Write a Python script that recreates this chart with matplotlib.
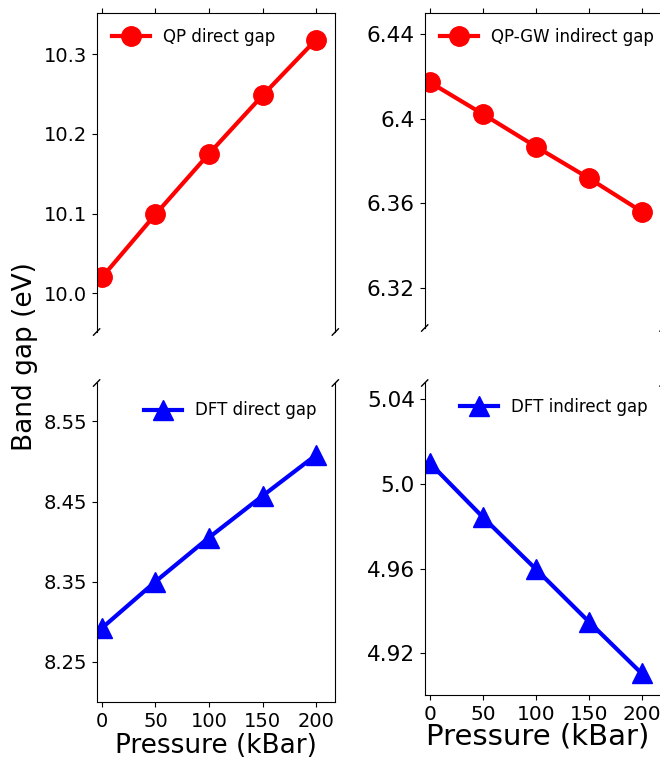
import matplotlib

matplotlib.use("Agg")
import matplotlib.pyplot as plt

pressure = [0, 50, 100, 150, 200]

qp_direct = [10.020, 10.099, 10.175, 10.248, 10.318]
dft_direct = [8.292, 8.350, 8.405, 8.457, 8.508]
qp_indirect = [6.4173, 6.4023, 6.3869, 6.3720, 6.3562]
dft_indirect = [5.0098, 4.9843, 4.9598, 4.9350, 4.9105]

left_top_ticks = [10.0, 10.1, 10.2, 10.3]
left_top_labels = ["10.0", "10.1", "10.2", "10.3"]
left_bot_ticks = [8.25, 8.35, 8.45, 8.55]
left_bot_labels = ["8.25", "8.35", "8.45", "8.55"]
right_top_ticks = [6.32, 6.36, 6.40, 6.44]
right_top_labels = ["6.32", "6.36", "6.4", "6.44"]
right_bot_ticks = [4.92, 4.96, 5.00, 5.04]
right_bot_labels = ["4.92", "4.96", "5.0", "5.04"]
x_ticks = [0, 50, 100, 150, 200]

W, H = 660, 759


def px_axes(fig, left, top, right, bottom):
    return fig.add_axes([left / W, 1 - bottom / H, (right - left) / W, (bottom - top) / H])


def break_marks(ax, ys):
    dx, dy = 0.013, 0.01
    kw = dict(transform=ax.transAxes, color="k", lw=1, clip_on=False)
    for x in (0, 1):
        for y in ys:
            ax.plot((x - dx, x + dx), (y - dy, y + dy), **kw)


def style_pair(ax_top, ax_bot, xmax, tick_fs_y, tick_fs_x):
    ax_top.spines["bottom"].set_visible(False)
    ax_bot.spines["top"].set_visible(False)
    ax_top.xaxis.tick_top()
    ax_top.tick_params(labeltop=False)
    ax_bot.xaxis.tick_bottom()
    for ax in (ax_top, ax_bot):
        ax.set_xlim(-5, xmax)
        ax.set_xticks(x_ticks)
        ax.tick_params(axis="y", labelsize=tick_fs_y)
        ax.tick_params(axis="x", labelsize=tick_fs_x)
    break_marks(ax_top, [0])
    break_marks(ax_bot, [1])


fig = plt.figure(figsize=(W / 100, H / 100), dpi=100)

# left column: direct gaps
ax_tl = px_axes(fig, 96.6, 13, 335.3, 332)
ax_bl = px_axes(fig, 96.6, 383, 335.3, 702)
# right column: indirect gaps (right spine falls just past the edge, as in the source)
ax_tr = px_axes(fig, 424.7, 13, 663, 328)
ax_br = px_axes(fig, 424.7, 383, 663, 695)

line_kw = dict(lw=3, markersize=14)
ax_tl.plot(pressure, qp_direct, "o-", color="red", label="QP direct gap", **line_kw)
ax_bl.plot(pressure, dft_direct, "^-", color="blue", label="DFT direct gap", **line_kw)
ax_tr.plot(pressure, qp_indirect, "o-", color="red", label="QP-GW indirect gap", **line_kw)
ax_br.plot(pressure, dft_indirect, "^-", color="blue", label="DFT indirect gap", **line_kw)

ax_tl.set_ylim(9.9515, 10.3514)
ax_bl.set_ylim(8.1996, 8.598)
ax_tr.set_ylim(6.3011, 6.4501)
ax_br.set_ylim(4.9003, 5.0477)

ax_tl.set_yticks(left_top_ticks, left_top_labels)
ax_bl.set_yticks(left_bot_ticks, left_bot_labels)
ax_tr.set_yticks(right_top_ticks, right_top_labels)
ax_br.set_yticks(right_bot_ticks, right_bot_labels)

style_pair(ax_tl, ax_bl, 218, 14, 14)
style_pair(ax_tr, ax_br, 220.2, 15.5, 14.5)

leg_kw = dict(frameon=False, fontsize=12, handlelength=2.3)
ax_tl.legend(loc="upper left", **leg_kw)
ax_tr.legend(loc="upper left", **leg_kw)
ax_bl.legend(loc="upper right", borderaxespad=0.7, **leg_kw)
ax_br.legend(loc="upper right", borderaxespad=0.5, **leg_kw)

fig.text(25 / W, 1 - 357 / H, "Band gap (eV)", rotation=90, fontsize=19,
         ha="center", va="center")
fig.text(215.5 / W, 1 - 746 / H, "Pressure (kBar)", fontsize=19, ha="center", va="center")
fig.text(538 / W, 1 - 737 / H, "Pressure (kBar)", fontsize=21, ha="center", va="center")

fig.savefig("out.png", dpi=100)
plt.close(fig)
